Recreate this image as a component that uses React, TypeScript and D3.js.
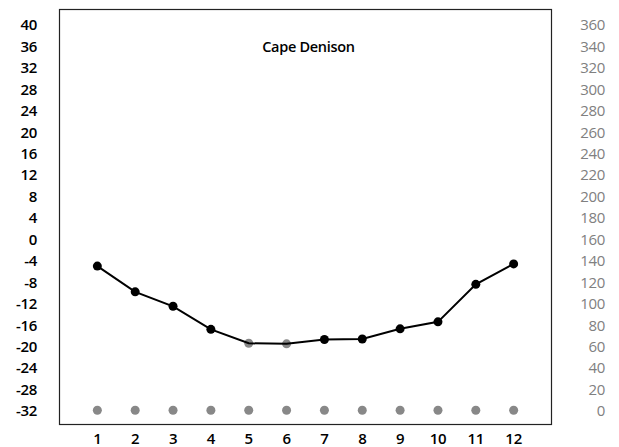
import React from "react";
import * as d3 from "d3";

const months = [1, 2, 3, 4, 5, 6, 7, 8, 9, 10, 11, 12];
const temperature = [-5.1, -9.9, -12.6, -16.9, -19.5, -19.6, -18.8, -18.7, -16.8, -15.5, -8.5, -4.7];
const tempMarkerGrey = [false, false, false, false, true, true, false, false, false, false, false, false];
const precipitation = [0, 0, 0, 0, 0, 0, 0, 0, 0, 0, 0, 0];
const tempTicks = [40, 36, 32, 28, 24, 20, 16, 12, 8, 4, 0, -4, -8, -12, -16, -20, -24, -28, -32];
const precTicks = [360, 340, 320, 300, 280, 260, 240, 220, 200, 180, 160, 140, 120, 100, 80, 60, 40, 20, 0];
const title = "Cape Denison";

const W = 619, H = 447;
const L = 59.5, R = 551.5, T = 9.5, B = 424.5;
const FONT = "'Open Sans', 'Noto Sans', sans-serif";

export default function App() {
  const x = d3.scaleLinear().domain([0, 13]).range([L, R]);
  const yT = d3.scaleLinear().domain([-32, 40]).range([410.3, 24.3]);
  const yP = d3.scaleLinear().domain([0, 360]).range([410.3, 24.3]);
  const line = d3.line<number>().x((_, i) => x(months[i])).y((d) => yT(d));
  return (
    <svg width={W} height={H} style={{ position: "absolute", left: 0, top: 0, background: "#fff" }}>
      <rect x={L} y={T} width={R - L} height={B - T} fill="none" stroke="#222" strokeWidth={1.2} />
      <text x={(L + R) / 2 + 3} y={46} textAnchor="middle" dominantBaseline="central" fontFamily={FONT} fontSize={14.5} fontWeight={600} letterSpacing={-0.3} fill="#000">{title}</text>
      {tempTicks.map((t) => (
        <text key={"t" + t} x={37} y={yT(t)} textAnchor="end" dominantBaseline="central" fontFamily={FONT} fontSize={15} fontWeight={600} letterSpacing={-0.3} fill="#000">{t}</text>
      ))}
      {precTicks.map((p) => (
        <text key={"p" + p} x={605} y={yP(p)} textAnchor="end" dominantBaseline="central" fontFamily={FONT} fontSize={15} letterSpacing={-0.3} fill="#808080">{p}</text>
      ))}
      {months.map((m) => (
        <text key={"m" + m} x={x(m)} y={437.5} textAnchor="middle" dominantBaseline="central" fontFamily={FONT} fontSize={15} fontWeight={600} letterSpacing={-0.3} fill="#000">{m}</text>
      ))}
      {precipitation.map((p, i) => (
        <circle key={"pc" + i} cx={x(months[i])} cy={yP(p)} r={4.5} fill="#888" />
      ))}
      {temperature.map((t, i) => (
        <circle key={"tc" + i} cx={x(months[i])} cy={yT(t)} r={4.5} fill={tempMarkerGrey[i] ? "#888" : "#000"} />
      ))}
      <path d={line(temperature) || ""} fill="none" stroke="#000" strokeWidth={2} />
    </svg>
  );
}
